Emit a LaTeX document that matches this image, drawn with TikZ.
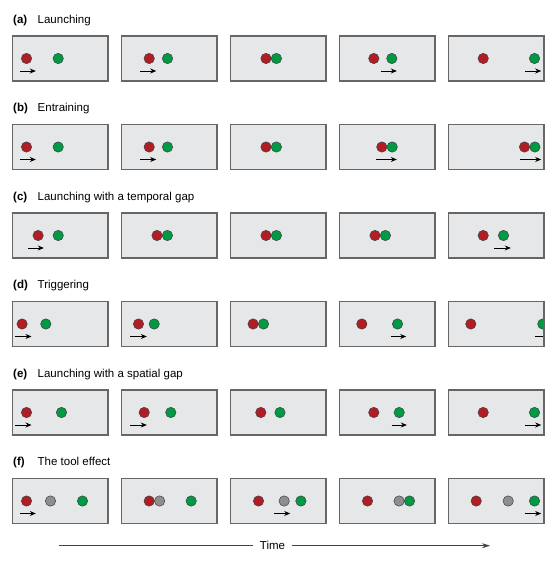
\documentclass[tikz,border=0pt]{standalone}
\usepackage{fontspec}
\setmainfont{Liberation Sans}
\usetikzlibrary{arrows.meta}
\definecolor{boxgray}{HTML}{E6E7E9}
\definecolor{edgegray}{HTML}{666666}
\definecolor{ballred}{HTML}{B21C24}
\definecolor{ballgreen}{HTML}{009944}
\definecolor{ballgray}{HTML}{8E8E8E}
\definecolor{timegray}{HTML}{444444}
\tikzset{panel/.style={rectangle, draw=edgegray, fill=boxgray, line width=1.1pt,
  minimum width=95.5pt, minimum height=45pt, inner sep=0pt, outer sep=0pt,
  anchor=north west},
  ball/.style={circle, draw=black!75, line width=0.5pt, minimum size=10.4pt,
  inner sep=0pt},
  redb/.style={ball, fill=ballred},
  grnb/.style={ball, fill=ballgreen},
  gryb/.style={ball, fill=ballgray},
  mv/.style={-{Stealth[length=6pt, width=5pt]}, line width=0.8pt},
  rowlbl/.style={anchor=west, inner sep=0pt, font=\fontsize{11.5}{13}\selectfont}}

\begin{document}
\begin{tikzpicture}[x=1pt, y=-1pt]
  \useasboundingbox (0,0) rectangle (559,564);
  \foreach \row [count=\i from 0] in {a,b,c,d,e,f}
    \foreach \col in {1,...,5}
      \node[panel] (\row\col) at ({12.5+109*(\col-1)}, {36+88.5*\i}) {};
  % row titles
  \node[rowlbl] (la) at (13,20.5)  {\makebox[24.5pt][l]{\textbf{(a)}}Launching};
  \node[rowlbl] (lb) at (13,109)   {\makebox[24.5pt][l]{\textbf{(b)}}Entraining};
  \node[rowlbl] (lc) at (13,197.5) {\makebox[24.5pt][l]{\textbf{(c)}}Launching with a temporal gap};
  \node[rowlbl] (ld) at (13,286)   {\makebox[24.5pt][l]{\textbf{(d)}}Triggering};
  \node[rowlbl] (le) at (13,374.5) {\makebox[24.5pt][l]{\textbf{(e)}}Launching with a spatial gap};
  \node[rowlbl] (lf) at (13,463)   {\makebox[24.5pt][l]{\textbf{(f)}}The tool effect};
  % (a) launching
  \node[redb] (a1r) at ([xshift=14pt]a1.west) {};
  \node[grnb] (a1g) at ([xshift=45.7pt]a1.west) {};
  \coordinate (a1s) at ([xshift=7.3pt, yshift=-12.5pt]a1.west);
  \coordinate (a1e) at ([xshift=23.3pt, yshift=-12.5pt]a1.west);
  \draw[mv] (a1s) -- (a1e);
  \node[redb] (a2r) at ([xshift=27.7pt]a2.west) {};
  \node[grnb] (a2g) at ([xshift=46pt]a2.west) {};
  \coordinate (a2s) at ([xshift=18.7pt, yshift=-12.5pt]a2.west);
  \coordinate (a2e) at ([xshift=34.7pt, yshift=-12.5pt]a2.west);
  \draw[mv] (a2s) -- (a2e);
  \node[redb] (a3r) at ([xshift=35.5pt]a3.west) {};
  \node[grnb] (a3g) at ([xshift=45.9pt]a3.west) {};
  \node[redb] (a4r) at ([xshift=34.3pt]a4.west) {};
  \node[grnb] (a4g) at ([xshift=52.3pt]a4.west) {};
  \coordinate (a4s) at ([xshift=41.3pt, yshift=-12.5pt]a4.west);
  \coordinate (a4e) at ([xshift=57.3pt, yshift=-12.5pt]a4.west);
  \draw[mv] (a4s) -- (a4e);
  \node[redb] (a5r) at ([xshift=34.7pt]a5.west) {};
  \node[grnb] (a5g) at ([xshift=86pt]a5.west) {};
  \coordinate (a5s) at ([xshift=76.7pt, yshift=-12.5pt]a5.west);
  \coordinate (a5e) at ([xshift=92.7pt, yshift=-12.5pt]a5.west);
  \draw[mv] (a5s) -- (a5e);
  % (b) entraining
  \node[redb] (b1r) at ([xshift=14pt]b1.west) {};
  \node[grnb] (b1g) at ([xshift=45.7pt]b1.west) {};
  \coordinate (b1s) at ([xshift=7.3pt, yshift=-12.5pt]b1.west);
  \coordinate (b1e) at ([xshift=23.3pt, yshift=-12.5pt]b1.west);
  \draw[mv] (b1s) -- (b1e);
  \node[redb] (b2r) at ([xshift=27.7pt]b2.west) {};
  \node[grnb] (b2g) at ([xshift=46pt]b2.west) {};
  \coordinate (b2s) at ([xshift=18.7pt, yshift=-12.5pt]b2.west);
  \coordinate (b2e) at ([xshift=34.7pt, yshift=-12.5pt]b2.west);
  \draw[mv] (b2s) -- (b2e);
  \node[redb] (b3r) at ([xshift=35.5pt]b3.west) {};
  \node[grnb] (b3g) at ([xshift=45.9pt]b3.west) {};
  \node[redb] (b4r) at ([xshift=42.3pt]b4.west) {};
  \node[grnb] (b4g) at ([xshift=52.7pt]b4.west) {};
  \coordinate (b4s) at ([xshift=36.7pt, yshift=-12.5pt]b4.west);
  \coordinate (b4e) at ([xshift=57.3pt, yshift=-12.5pt]b4.west);
  \draw[mv] (b4s) -- (b4e);
  \node[redb] (b5r) at ([xshift=76pt]b5.west) {};
  \node[grnb] (b5g) at ([xshift=86.4pt]b5.west) {};
  \coordinate (b5s) at ([xshift=71.7pt, yshift=-12.5pt]b5.west);
  \coordinate (b5e) at ([xshift=92.7pt, yshift=-12.5pt]b5.west);
  \draw[mv] (b5s) -- (b5e);
  % (c) temporal gap
  \node[redb] (c1r) at ([xshift=25.6pt]c1.west) {};
  \node[grnb] (c1g) at ([xshift=45.7pt]c1.west) {};
  \coordinate (c1s) at ([xshift=15.6pt, yshift=-12.5pt]c1.west);
  \coordinate (c1e) at ([xshift=31.3pt, yshift=-12.5pt]c1.west);
  \draw[mv] (c1s) -- (c1e);
  \node[redb] (c2r) at ([xshift=35.5pt]c2.west) {};
  \node[grnb] (c2g) at ([xshift=45.9pt]c2.west) {};
  \node[redb] (c3r) at ([xshift=35.5pt]c3.west) {};
  \node[grnb] (c3g) at ([xshift=45.9pt]c3.west) {};
  \node[redb] (c4r) at ([xshift=35.5pt]c4.west) {};
  \node[grnb] (c4g) at ([xshift=45.9pt]c4.west) {};
  \node[redb] (c5r) at ([xshift=34.7pt]c5.west) {};
  \node[grnb] (c5g) at ([xshift=55pt]c5.west) {};
  \coordinate (c5s) at ([xshift=45.7pt, yshift=-12.5pt]c5.west);
  \coordinate (c5e) at ([xshift=62.3pt, yshift=-12.5pt]c5.west);
  \draw[mv] (c5s) -- (c5e);
  % (d) triggering
  \node[redb] (d1r) at ([xshift=9.6pt]d1.west) {};
  \node[grnb] (d1g) at ([xshift=33.3pt]d1.west) {};
  \coordinate (d1s) at ([xshift=2.3pt, yshift=-12.5pt]d1.west);
  \coordinate (d1e) at ([xshift=19pt, yshift=-12.5pt]d1.west);
  \draw[mv] (d1s) -- (d1e);
  \node[redb] (d2r) at ([xshift=17pt]d2.west) {};
  \node[grnb] (d2g) at ([xshift=32.7pt]d2.west) {};
  \coordinate (d2s) at ([xshift=8.7pt, yshift=-12.5pt]d2.west);
  \coordinate (d2e) at ([xshift=25.3pt, yshift=-12.5pt]d2.west);
  \draw[mv] (d2s) -- (d2e);
  \node[redb] (d3r) at ([xshift=22.6pt]d3.west) {};
  \node[grnb] (d3g) at ([xshift=33pt]d3.west) {};
  \node[redb] (d4r) at ([xshift=22.3pt]d4.west) {};
  \node[grnb] (d4g) at ([xshift=58pt]d4.west) {};
  \coordinate (d4s) at ([xshift=51.7pt, yshift=-12.5pt]d4.west);
  \coordinate (d4e) at ([xshift=66.7pt, yshift=-12.5pt]d4.west);
  \draw[mv] (d4s) -- (d4e);
  \node[redb] (d5r) at ([xshift=22.3pt]d5.west) {};
  \begin{scope}
    \clip (d5.south west) rectangle (d5.north east);
    \node[grnb] (d5g) at ([xshift=94.3pt]d5.west) {};
    \coordinate (d5s) at ([xshift=86.7pt, yshift=-12.5pt]d5.west);
    \coordinate (d5e) at ([xshift=102.7pt, yshift=-12.5pt]d5.west);
    \draw[mv] (d5s) -- (d5e);
  \end{scope}
  \draw[draw=edgegray, line width=1.1pt] (d5.south west) rectangle (d5.north east);
  % (e) spatial gap
  \node[redb] (e1r) at ([xshift=14pt]e1.west) {};
  \node[grnb] (e1g) at ([xshift=49pt]e1.west) {};
  \coordinate (e1s) at ([xshift=2.3pt, yshift=-12.5pt]e1.west);
  \coordinate (e1e) at ([xshift=19pt, yshift=-12.5pt]e1.west);
  \draw[mv] (e1s) -- (e1e);
  \node[redb] (e2r) at ([xshift=22.7pt]e2.west) {};
  \node[grnb] (e2g) at ([xshift=49.3pt]e2.west) {};
  \coordinate (e2s) at ([xshift=8.7pt, yshift=-12.5pt]e2.west);
  \coordinate (e2e) at ([xshift=25.3pt, yshift=-12.5pt]e2.west);
  \draw[mv] (e2s) -- (e2e);
  \node[redb] (e3r) at ([xshift=30.3pt]e3.west) {};
  \node[grnb] (e3g) at ([xshift=49.5pt]e3.west) {};
  \node[redb] (e4r) at ([xshift=34.3pt]e4.west) {};
  \node[grnb] (e4g) at ([xshift=59.7pt]e4.west) {};
  \coordinate (e4s) at ([xshift=52.3pt, yshift=-12.5pt]e4.west);
  \coordinate (e4e) at ([xshift=67.3pt, yshift=-12.5pt]e4.west);
  \draw[mv] (e4s) -- (e4e);
  \node[redb] (e5r) at ([xshift=34.7pt]e5.west) {};
  \node[grnb] (e5g) at ([xshift=86pt]e5.west) {};
  \coordinate (e5s) at ([xshift=76.7pt, yshift=-12.5pt]e5.west);
  \coordinate (e5e) at ([xshift=92.7pt, yshift=-12.5pt]e5.west);
  \draw[mv] (e5s) -- (e5e);
  % (f) tool effect
  \node[redb] (f1r) at ([xshift=14pt]f1.west) {};
  \node[gryb] (f1k) at ([xshift=38pt]f1.west) {};
  \node[grnb] (f1g) at ([xshift=70pt]f1.west) {};
  \coordinate (f1s) at ([xshift=7.3pt, yshift=-12.5pt]f1.west);
  \coordinate (f1e) at ([xshift=23.3pt, yshift=-12.5pt]f1.west);
  \draw[mv] (f1s) -- (f1e);
  \node[redb] (f2r) at ([xshift=27.7pt]f2.west) {};
  \node[gryb] (f2k) at ([xshift=38.1pt]f2.west) {};
  \node[grnb] (f2g) at ([xshift=69.7pt]f2.west) {};
  \node[redb] (f3r) at ([xshift=28pt]f3.west) {};
  \node[gryb] (f3k) at ([xshift=53.7pt]f3.west) {};
  \node[grnb] (f3g) at ([xshift=70.4pt]f3.west) {};
  \coordinate (f3s) at ([xshift=43.7pt, yshift=-12.5pt]f3.west);
  \coordinate (f3e) at ([xshift=59.7pt, yshift=-12.5pt]f3.west);
  \draw[mv] (f3s) -- (f3e);
  \node[redb] (f4r) at ([xshift=28pt]f4.west) {};
  \node[gryb] (f4k) at ([xshift=59.6pt]f4.west) {};
  \node[grnb] (f4g) at ([xshift=70pt]f4.west) {};
  \node[redb] (f5r) at ([xshift=27.7pt]f5.west) {};
  \node[gryb] (f5k) at ([xshift=59.7pt]f5.west) {};
  \node[grnb] (f5g) at ([xshift=86pt]f5.west) {};
  \coordinate (f5s) at ([xshift=76pt, yshift=-12.5pt]f5.west);
  \coordinate (f5e) at ([xshift=92.7pt, yshift=-12.5pt]f5.west);
  \draw[mv] (f5s) -- (f5e);
  % time axis
  \node[font=\fontsize{11.5}{13}\selectfont, inner xsep=6.5pt, inner ysep=0pt]
    (time) at (272.5,545.7) {Time};
  \coordinate (t0) at (59,545.7);
  \coordinate (t1) at (490,545.7);
  \draw[timegray, line width=0.8pt] (t0) -- (time);
  \draw[timegray, line width=0.8pt, -{Stealth[length=8pt, width=5pt]}] (time) -- (t1);
\end{tikzpicture}
\end{document}
